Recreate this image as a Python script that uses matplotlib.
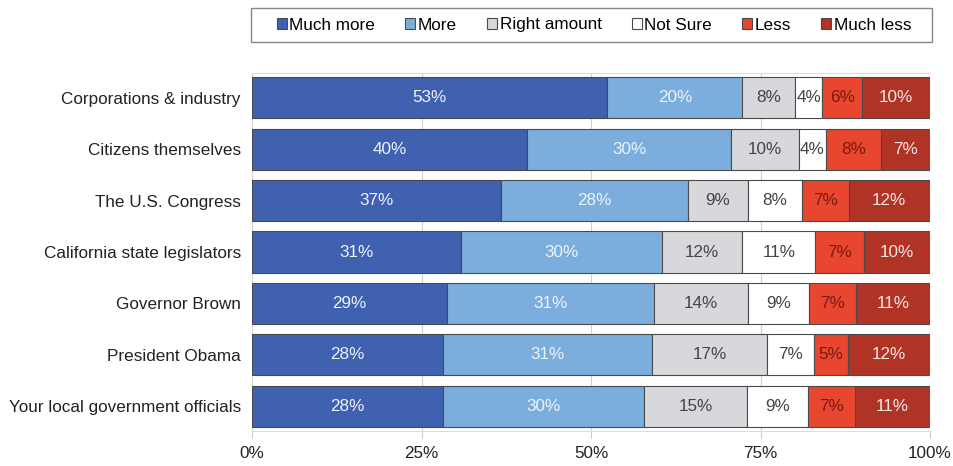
import matplotlib
matplotlib.use("Agg")
import matplotlib.pyplot as plt
import matplotlib.patches as mpatches
import numpy as np

plt.rcParams['font.family'] = ['Liberation Sans', 'DejaVu Sans']

# survey rows, top to bottom
groups = ["Corporations & industry", "Citizens themselves", "The U.S. Congress",
          "California state legislators", "Governor Brown", "President Obama",
          "Your local government officials"]
categories = ["Much more", "More", "Right amount", "Not Sure", "Less", "Much less"]

# segment widths (%)
much_more = [52.4, 40.6, 36.7, 30.8, 28.8, 28.2, 28.2]
more = [19.9, 30.0, 27.6, 29.6, 30.5, 30.8, 29.6]
right_amount = [7.8, 10.0, 8.8, 11.9, 13.9, 17.0, 15.2]
not_sure = [4.0, 4.1, 8.0, 10.8, 9.0, 6.9, 9.0]
less = [5.9, 8.1, 6.9, 7.1, 6.9, 5.0, 6.9]
much_less = [10.0, 7.2, 12.0, 9.8, 10.9, 12.1, 11.1]

# printed labels
lab_much_more = ["53%", "40%", "37%", "31%", "29%", "28%", "28%"]
lab_more = ["20%", "30%", "28%", "30%", "31%", "31%", "30%"]
lab_right = ["8%", "10%", "9%", "12%", "14%", "17%", "15%"]
lab_notsure = ["4%", "4%", "8%", "11%", "9%", "7%", "9%"]
lab_less = ["6%", "8%", "7%", "7%", "7%", "5%", "7%"]
lab_much_less = ["10%", "7%", "12%", "10%", "11%", "12%", "11%"]

series = [much_more, more, right_amount, not_sure, less, much_less]
labels = [lab_much_more, lab_more, lab_right, lab_notsure, lab_less, lab_much_less]
colors = ["#4060B0", "#7BAEDC", "#D6D8DB", "#FFFFFF", "#E8462F", "#B03426"]
text_colors = ["#EEF2FA", "#EEF2FA", "#444444", "#444444", "#7A1A10", "#F5E6E3"]

fs = 12.3

fig = plt.figure(figsize=(9.54, 4.66), dpi=100)
ax = fig.add_axes([0.2642, 0.0751, 0.7107, 0.7682])

y = np.arange(len(groups))
left = np.zeros(len(groups))
handles = []
for vals, labs, c, tc, name in zip(series, labels, colors, text_colors, categories):
    vals = np.array(vals)
    bars = ax.barh(y, vals, left=left, height=0.8, color=c, edgecolor="#4a4a4a",
                   linewidth=0.8, label=name, zorder=3)
    handles.append(bars)
    for yi, l, v, t in zip(y, left, vals, labs):
        ax.text(l + v / 2, yi, t, ha="center", va="center", color=tc,
                fontsize=fs, zorder=4)
    left = left + vals

ax.set_xlim(0, 100)
ax.set_ylim(len(groups) - 0.52, -0.48)
ax.set_yticks(y)
ax.set_yticklabels(groups, fontsize=fs, color="#222222")
ax.set_xticks([0, 25, 50, 75, 100])
ax.set_xticklabels(["0%", "25%", "50%", "75%", "100%"], fontsize=fs, color="#222222")
ax.tick_params(axis="y", length=0, pad=8)
ax.tick_params(axis="x", length=5, color="#cccccc", pad=6)
ax.xaxis.grid(True, color="#d0d0d0", linewidth=0.8, zorder=0)
for s in ["left", "right"]:
    ax.spines[s].set_visible(False)
for s in ["top", "bottom"]:
    ax.spines[s].set_color("#dddddd")
    ax.spines[s].set_linewidth(0.8)

# legend box drawn separately, entries centred inside it
box = mpatches.Rectangle((251 / 954, 1 - 42 / 466), 681 / 954, 34 / 466,
                         transform=fig.transFigure, facecolor="white",
                         edgecolor="#888888", linewidth=1.0)
fig.patches.append(box)
leg = fig.legend(handles=handles, labels=categories, loc="center",
                 bbox_to_anchor=(594 / 954, 1 - 25 / 466),
                 ncol=6, frameon=False, fontsize=fs, handlelength=0.6,
                 handleheight=0.6, handletextpad=0.15, columnspacing=1.75)

fig.savefig("out.png", dpi=100)
